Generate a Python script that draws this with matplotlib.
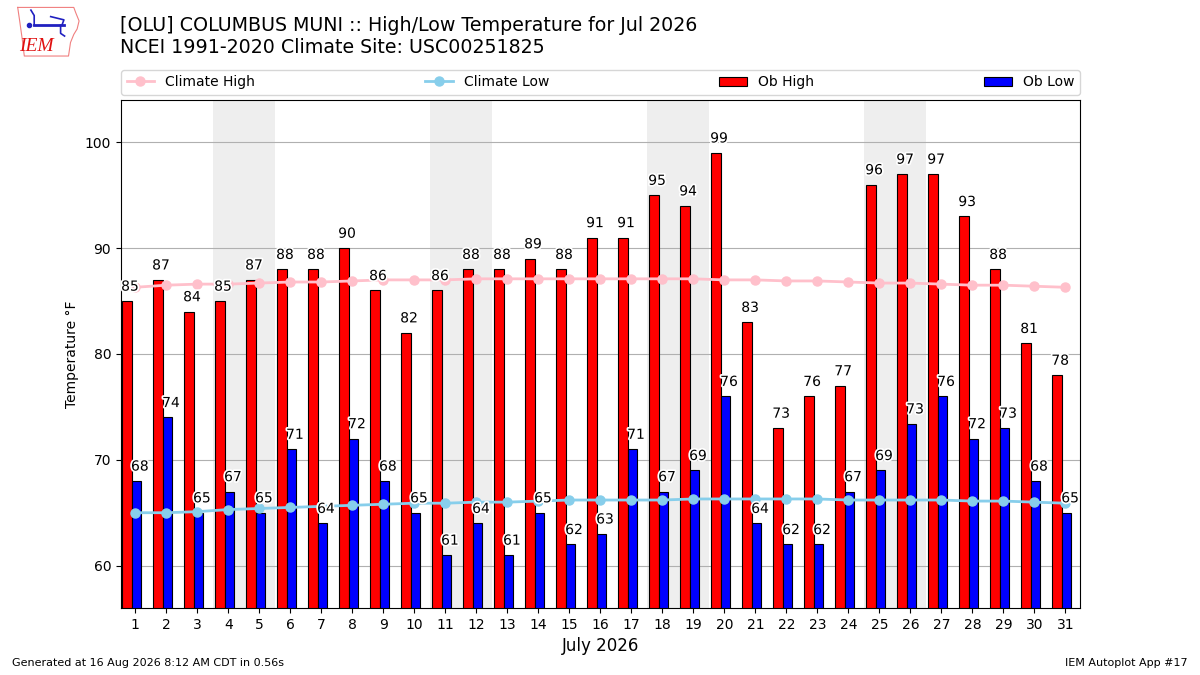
import matplotlib
matplotlib.use("Agg")
import matplotlib.pyplot as plt
import matplotlib.patheffects as pe
import numpy as np

# ====================
# data
# ====================
days = list(range(1, 32))
ob_high = [85, 87, 84, 85, 87, 88, 88, 90, 86, 82, 86, 88, 88, 89, 88, 91,
           91, 95, 94, 99, 83, 73, 76, 77, 96, 97, 97, 93, 88, 81, 78]
ob_low = [68, 74, 65, 67, 65, 71, 64, 72, 68, 65, 61, 64, 61, 65, 62, 63,
          71, 67, 69, 76, 64, 62, 62, 67, 69, 73.4, 76, 72, 73, 68, 65]
clim_high = [86.3, 86.5, 86.6, 86.6, 86.7, 86.8, 86.8, 86.9, 87.0, 87.0, 87.0,
             87.1, 87.1, 87.1, 87.1, 87.1, 87.1, 87.1, 87.1, 87.0, 87.0, 86.9,
             86.9, 86.8, 86.7, 86.7, 86.6, 86.5, 86.5, 86.4, 86.3]
clim_low = [65.0, 65.0, 65.1, 65.3, 65.4, 65.5, 65.6, 65.7, 65.8, 65.9, 65.9,
            66.0, 66.0, 66.1, 66.2, 66.2, 66.2, 66.2, 66.3, 66.3, 66.3, 66.3,
            66.3, 66.2, 66.2, 66.2, 66.2, 66.1, 66.1, 66.0, 65.9]
weekend_starts = [4, 11, 18, 25]  # saturdays

title = ("[OLU] COLUMBUS MUNI :: High/Low Temperature for Jul 2026\n"
         "NCEI 1991-2020 Climate Site: USC00251825")

# ====================
# figure
# ====================
fig = plt.figure(figsize=(12, 6.75), dpi=100)
ax = fig.add_axes([0.1008, 0.0993, 0.7992, 0.7526])

for sat in weekend_starts:
    ax.axvspan(sat - 0.5, sat + 1.5, color="#EEEEEE", lw=0, zorder=0)

x = np.array(days)
b1 = ax.bar(x - 0.42, ob_high, width=0.3, align="edge", color="r",
            edgecolor="k", lw=0.8, zorder=2, label="Ob High")
b2 = ax.bar(x - 0.12, ob_low, width=0.3, align="edge", color="b",
            edgecolor="k", lw=0.8, zorder=2, label="Ob Low")
l1, = ax.plot(days, clim_high, color="pink", marker="o", lw=2, ms=6.5,
              zorder=3, label="Climate High")
l2, = ax.plot(days, clim_low, color="skyblue", marker="o", lw=2, ms=6.5,
              zorder=3, label="Climate Low")

halo = [pe.withStroke(linewidth=2.5, foreground="white")]
for d, hi, lo in zip(days, ob_high, ob_low):
    ax.text(d - 0.17, hi + 0.7, "%.0f" % hi, ha="center", va="bottom",
            fontsize=10, zorder=4, path_effects=halo)
    ax.text(d + 0.15, lo + 0.7, "%.0f" % lo, ha="center", va="bottom",
            fontsize=10, zorder=4, path_effects=halo)

ax.set_xlim(0.54, 31.47)
ax.set_ylim(56, 104)
ax.set_xticks(days)
ax.set_yticks([60, 70, 80, 90, 100])
ax.tick_params(labelsize=10)
ax.set_axisbelow(True)
ax.grid(axis="y", color="#b0b0b0", lw=0.8)
ax.set_ylabel("Temperature °F", fontsize=10)
ax.set_xlabel("July 2026", fontsize=12)

ax.legend(handles=[l1, l2, b1, b2], loc="lower left", ncol=4, mode="expand",
          bbox_to_anchor=(0, 1.01, 1, 0.05), borderaxespad=0, fontsize=10)

fig.text(0.1, 0.977, title, fontsize=13.65, va="top", ha="left",
         linespacing=1.2)
fig.text(0.01, 0.01, "Generated at 16 Aug 2026 8:12 AM CDT in 0.56s",
         fontsize=8, ha="left", va="bottom")
fig.text(0.99, 0.01, "IEM Autoplot App #17", fontsize=8, ha="right",
         va="bottom")

# ====================
# rough IEM logo
# ====================
lax = fig.add_axes([0.012, 0.913, 0.055, 0.08])
lax.set_xlim(0, 1)
lax.set_ylim(0, 1)
lax.axis("off")
iowa_x = [0.05, 0.9, 0.93, 0.98, 0.95, 0.9, 0.85, 0.82, 0.15, 0.12, 0.08, 0.05]
iowa_y = [0.95, 0.95, 0.85, 0.7, 0.55, 0.45, 0.3, 0.05, 0.05, 0.35, 0.7, 0.95]
lax.plot(iowa_x, iowa_y, color="#f08080", lw=0.8)
lax.plot([0.3, 0.75], [0.62, 0.62], color="#2020c0", lw=2)
lax.plot([0.3, 0.3, 0.25], [0.62, 0.8, 0.9], color="#2020c0", lw=1.2)
lax.plot([0.55, 0.75, 0.72], [0.78, 0.72, 0.62], color="#2020c0", lw=1.2)
lax.plot([0.7, 0.7, 0.76], [0.62, 0.47, 0.42], color="#2020c0", lw=1.2)
lax.plot([0.22], [0.62], "o", color="#2020c0", ms=3)
lax.text(0.33, 0.22, "IEM", color="#e01010", fontsize=14, style="italic",
         family="Liberation Serif", ha="center", va="center")

fig.savefig("out.png", dpi=100)
